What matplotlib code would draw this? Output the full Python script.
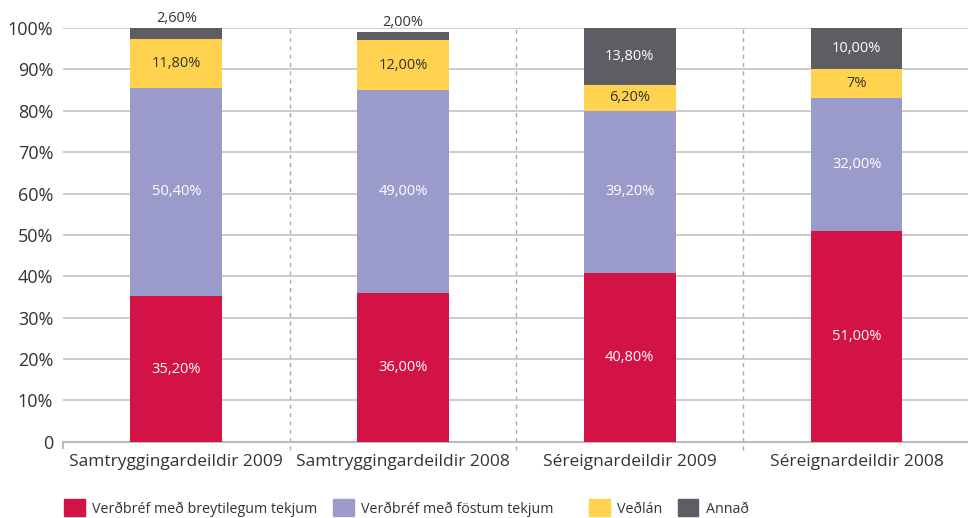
import numpy as np
import matplotlib.pyplot as plt
from matplotlib.patches import Patch

plt.rcParams['font.family'] = ['Open Sans', 'DejaVu Sans']

flokkar = ['Samtryggingardeildir 2009', 'Samtryggingardeildir 2008',
           'Séreignardeildir 2009', 'Séreignardeildir 2008']
breytilegar = [35.2, 36.0, 40.8, 51.0]
fastar = [50.4, 49.0, 39.2, 32.0]
vedlan = [11.8, 12.0, 6.2, 7.0]
annad = [2.6, 2.0, 13.8, 10.0]
merki = [['35,20%', '36,00%', '40,80%', '51,00%'],
         ['50,40%', '49,00%', '39,20%', '32,00%'],
         ['11,80%', '12,00%', '6,20%', '7%'],
         ['2,60%', '2,00%', '13,80%', '10,00%']]
heiti = ['Verðbréf með breytilegum tekjum', 'Verðbréf með föstum tekjum', 'Veðlán', 'Annað']
litir = ['#D31245', '#9B9BCB', '#FFD24F', '#5F5D63']
textalitir = ['white', 'white', '#333333', 'white']

fig = plt.figure(figsize=(9.68, 5.18), dpi=100)
ax = fig.add_axes([0.065, 0.147, 0.937, 0.799])

x = np.arange(len(flokkar))
raðir = [breytilegar, fastar, vedlan, annad]
botn = np.zeros(len(flokkar))
for i, gildi in enumerate(raðir):
    ax.bar(x, gildi, width=0.405, bottom=botn, color=litir[i], zorder=3)
    for j, g in enumerate(gildi):
        if g < 5:
            # lítil gildi fyrir ofan súluna
            ax.text(x[j], botn[j] + g + 0.5, merki[i][j], ha='center', va='bottom',
                    fontsize=10.5, color='#333333', zorder=4)
        else:
            ax.text(x[j], botn[j] + g / 2, merki[i][j], ha='center', va='center',
                    fontsize=10.5, color=textalitir[i], zorder=4)
    botn += np.array(gildi)

for s in [0.5, 1.5, 2.5]:
    ax.axvline(s, ymin=-0.02, ymax=1, color='#AAAAAA', linestyle=(0, (3, 3)),
               linewidth=1, clip_on=False, zorder=1)

ax.set_xlim(-0.5, 3.5)
ax.set_ylim(0, 100)
ax.set_yticks(range(0, 101, 10))
ax.set_yticklabels(['0'] + [f'{v}%' for v in range(10, 101, 10)])
ax.yaxis.grid(True, color='#C4C4C4', linewidth=1.2, zorder=0)
ax.set_xticks(x)
ax.set_xticklabels(flokkar)
ax.tick_params(axis='both', length=0, labelsize=13, colors='#333333', pad=7)
ax.tick_params(axis='x', labelsize=12.5, pad=9)
for sp in ['top', 'right', 'left']:
    ax.spines[sp].set_visible(False)
ax.spines['bottom'].set_color('#BBBBBB')
ax.spines['bottom'].set_linewidth(1.5)
ax.plot([-0.5, -0.5], [0, -1.5], color='#BBBBBB', lw=1.5, clip_on=False)

# tvær skýringar svo bilin verði eins og á fyrirmyndinni
h = [Patch(color=c) for c in litir]
stillingar = dict(loc='lower left', ncol=2, frameon=False, fontsize=10.3,
                  handlelength=1.45, handleheight=1.45, handletextpad=0.5,
                  columnspacing=1.1, labelcolor='#333333')
fig.legend(h[:2], heiti[:2], bbox_to_anchor=(0.053, -0.022), **stillingar)
fig.legend(h[2:], heiti[2:], bbox_to_anchor=(0.595, -0.022), **stillingar)

plt.savefig('out.png', dpi=100)
